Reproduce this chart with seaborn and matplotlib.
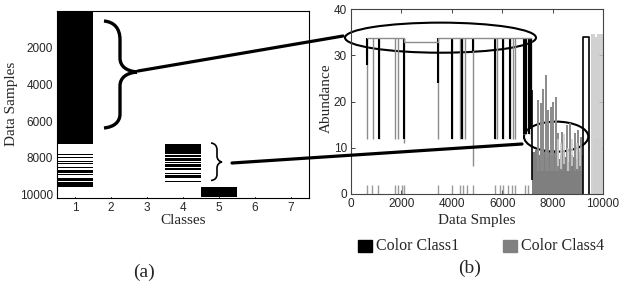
import numpy as np
import pandas as pd
import matplotlib
matplotlib.use('Agg')
import matplotlib.pyplot as plt
import matplotlib.transforms as mtransforms
from matplotlib.colors import ListedColormap
from matplotlib.patches import Ellipse, Rectangle, PathPatch
from matplotlib.path import Path
from matplotlib.lines import Line2D
import seaborn as sns

## (a) class of each sample, given as runs: start sample and class id
seg_start = [0, 7220, 7790, 7850, 7960, 8010, 8150, 8200, 8280, 8330, 8520,
             8570, 8640, 8850, 8880, 8920, 9110, 9280, 9320, 9570]
seg_class = [1, 4, 1, 4, 1, 4, 1, 4, 1, 4, 1,
             4, 1, 4, 1, 4, 1, 4, 1, 5]
n_samples = 10130
class_ticks = [1, 2, 3, 4, 5, 6, 7]
sample_ticks = [2000, 4000, 6000, 8000, 10000]

## (b) abundance per data sample
# spikes of the first block (between ~12 and the top level)
spike_x = [635, 873, 1111, 1746, 1852, 2116, 3466, 3995, 4325, 4418, 4524,
           4854, 5714, 5780, 6045, 6310, 6442, 6508, 6850, 6950, 7050, 7140]
spike_lo = [12, 12, 12, 12, 12, 11, 12, 12, 12, 12, 12,
            6, 12, 12, 12, 12, 12, 12, 13, 13, 13, 12]
spike_top = 33.7
# parts of those spikes drawn in black (class 1)
dark_x = [635, 1111, 2116, 3466, 3995, 4418, 4854, 5714, 6045, 6310, 6850, 6950, 7050, 7140]
dark_lo = [28, 12, 12, 24, 12, 12, 31, 12, 12, 12, 13, 13, 13, 14]
# top level joining the spikes
top_x = [635, 2116, 2116, 3466, 3466, 7140]
top_y = [33.7, 33.7, 32.9, 32.9, 33.7, 33.7]
# short marks near zero
low_x = [623, 821, 1085, 1746, 1878, 2011, 2116, 3466, 3995, 4325, 4458,
         4590, 4854, 5714, 5913, 6045, 6243, 6376, 6508, 6905, 7036]
low_h = 2
# class 4 block
c4_x = [7250, 7350, 7450, 7550, 7650, 7750, 7850, 7950, 8050, 8150,
        8250, 8350, 8450, 8550, 8650, 8750, 8850, 8950, 9050, 9150]
c4_base = [9.0, 9.5, 8.5, 9.0, 9.5, 8.0, 9.0, 8.5, 9.5, 8.0,
           7.5, 8.5, 9.0, 8.0, 7.0, 8.5, 8.0, 7.5, 9.0, 8.5]
c4_spike_x = [7440, 7530, 7605, 7740, 7830, 7925, 8030, 8125, 8230, 8360, 8560, 8690, 8890, 9020, 9130]
c4_spike_hi = [20.3, 19.6, 22.8, 25.7, 18.2, 18.9, 20.0, 21.0, 13.1, 13.5, 14.9, 15.3, 13.1, 13.8, 12.4]
light_x = [8200, 8330, 8470, 8620, 8760, 8950, 9080]
light_lo = [6, 5.5, 6.5, 5, 6, 5.5, 6]
light_hi = [12, 11, 13, 10, 12, 11, 10]
edge_x = [7170]
edge_lo = [3]
edge_hi = [22.5]
# tail of the data
box_x = [9225, 9225, 9430, 9430]
box_y = [0, 34, 34, 0]
pale_x = [9560, 9640, 9720, 9800, 9880, 9950]
pale_hi = [34.5, 34.5, 34.0, 34.5, 34.5, 34.5]

sns.set_style('ticks')
plt.rcParams['font.family'] = ['Liberation Serif', 'DejaVu Serif']

fig = plt.figure(figsize=(6.2, 2.87), dpi=100)
ax1 = fig.add_axes([57 / 620, 1 - 198 / 287, 252 / 620, 187 / 287])
ax2 = fig.add_axes([351 / 620, 1 - 194 / 287, 252 / 620, 185 / 287])

# class membership matrix
seg_end = seg_start[1:] + [n_samples]
mat = np.zeros((n_samples, len(class_ticks)))
for s, e, c in zip(seg_start, seg_end, seg_class):
    mat[s:e, c - 1] = 1
df = pd.DataFrame(mat, columns=class_ticks)
sns.heatmap(df, ax=ax1, cmap=ListedColormap(['white', 'black']), vmin=0, vmax=1,
            cbar=False, xticklabels=False, yticklabels=False, rasterized=True)
for s in ax1.spines.values():
    s.set_visible(True)
    s.set_linewidth(0.8)
    s.set_color('black')
ax1.set_xticks(np.array(class_ticks) - 0.5)
ax1.set_xticklabels(class_ticks)
ax1.set_yticks(sample_ticks)
ax1.set_yticklabels(sample_ticks)
ax1.set_xlim(0, 7)
ax1.set_ylim(10185, 0)
ax1.set_xlabel('Classes', fontsize=11)
ax1.set_ylabel('Data Samples', fontsize=11)
ax1.xaxis.set_label_coords(0.5, -0.085)
ax1.yaxis.set_label_coords(-0.155, 0.505)

# abundance plot
ax2.bar(c4_x, c4_base, width=100, color='#7f7f7f', linewidth=0)
ax2.vlines(c4_spike_x, 5, c4_spike_hi, color='#8a8a8a', lw=1.4)
ax2.vlines(light_x, light_lo, light_hi, color='#cfcfcf', lw=1.2)
ax2.vlines(spike_x, spike_lo, spike_top, color='#8c8c8c', lw=1.0)
ax2.vlines(dark_x, dark_lo, spike_top, color='black', lw=1.5)
ax2.vlines(edge_x, edge_lo, edge_hi, color='black', lw=1.2)
ax2.plot(top_x, top_y, color='#8c8c8c', lw=1.0)
ax2.vlines(low_x, 0, low_h, color='#9a9a9a', lw=1.0)
ax2.bar([9775], [12], width=350, color='#ececec', linewidth=0)
ax2.vlines(pale_x, 0, pale_hi, color='#c8c8c8', lw=1.2)
ax2.plot(box_x, box_y, color='black', lw=1.2)
ax2.set_xlim(0, 10000)
ax2.set_ylim(0, 40)
ax2.set_xticks([0, 2000, 4000, 6000, 8000, 10000])
ax2.set_yticks([0, 10, 20, 30, 40])
ax2.set_xlabel('Data Smples', fontsize=11)
ax2.set_ylabel('Abundance', fontsize=11)
ax2.xaxis.set_label_coords(0.5, -0.108)
ax2.yaxis.set_label_coords(-0.072, 0.52)
for s in ax2.spines.values():
    s.set_visible(True)
    s.set_linewidth(0.8)
    s.set_color('#444444')

for ax in (ax1, ax2):
    ax.tick_params(direction='in', top=True, right=True, length=3, width=0.6,
                   labelsize=8.5, pad=3)
    for lab in ax.get_xticklabels() + ax.get_yticklabels():
        lab.set_family(['Liberation Sans', 'DejaVu Sans'])

# ellipses around the highlighted groups
ax2.add_patch(Ellipse((3552, 33.8), 7580, 6.5, fill=False, color='black', lw=1.5, clip_on=False))
ax2.add_patch(Ellipse((8141, 12.4), 2552, 6.5, fill=False, color='black', lw=1.5, clip_on=False))

# annotation braces and connectors, in figure pixels
px = mtransforms.Affine2D().scale(1 / 620, -1 / 287).translate(0, 1) + fig.transFigure
C = Path.CURVE4
L = Path.LINETO
M = Path.MOVETO
big = Path([(104, 21), (114, 22), (120, 28), (120, 40), (120, 58),
            (120, 66), (126, 71), (137, 72),
            (126, 73), (120, 78), (120, 86), (120, 114),
            (120, 122), (114, 127), (104, 128)],
           [M, C, C, C, L, C, C, C, C, C, C, L, C, C, C])
small = Path([(211, 143), (215, 143.5), (217, 146), (217, 150), (217, 156),
              (217, 159), (219, 161.5), (222, 162),
              (219, 162.5), (217, 165), (217, 168), (217, 174),
              (217, 178), (215, 180), (211, 180.5)],
             [M, C, C, C, L, C, C, C, C, C, C, L, C, C, C])
fig.add_artist(PathPatch(big, transform=px, fill=False, lw=2.4, color='black'))
fig.add_artist(PathPatch(small, transform=px, fill=False, lw=1.2, color='black'))
fig.add_artist(Line2D([138, 343], [71, 36], transform=px, color='black', lw=2.3))
fig.add_artist(Line2D([232, 522], [163, 144], transform=px, color='black', lw=2.3))

# legend
fig.add_artist(Rectangle((358, 252), 14, -12, transform=px, color='black'))
fig.add_artist(Rectangle((503, 252), 14, -12, transform=px, color='#808080'))
fig.text(376 / 620, 1 - 246 / 287, 'Color Class1', fontsize=11.5, va='center', ha='left')
fig.text(521 / 620, 1 - 246 / 287, 'Color Class4', fontsize=11.5, va='center', ha='left')

# panel captions
fig.text(144 / 620, 1 - 272 / 287, '(a)', fontsize=14, ha='center', va='center')
fig.text(470 / 620, 1 - 268 / 287, '(b)', fontsize=14, ha='center', va='center')

fig.savefig('out.png', dpi=100, facecolor='white')
